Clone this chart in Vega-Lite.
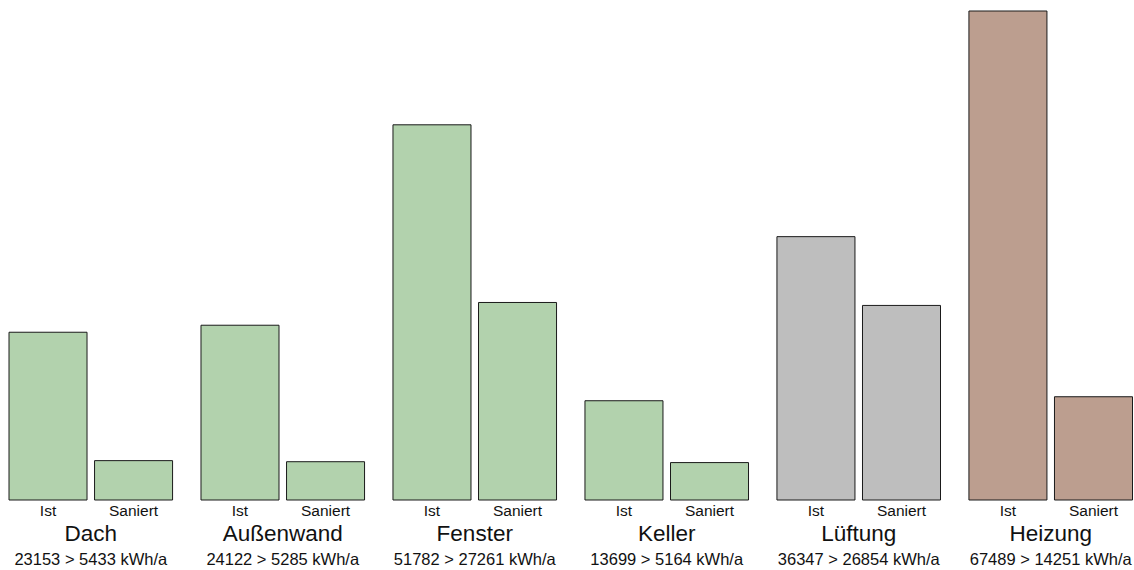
{
  "$schema": "https://vega.github.io/schema/vega-lite/v6.json",
  "width": 1123.5,
  "height": 489,
  "autosize": {"type": "none"},
  "padding": {"left": 9, "top": 11, "right": 1.5, "bottom": 70},
  "config": {"view": {"stroke": null}, "font": "Liberation Sans"},
  "datasets": {
    "balken": [
      {"Gruppe": "Dach", "Typ": "Ist", "Wert": 23153},
      {"Gruppe": "Dach", "Typ": "Saniert", "Wert": 5433},
      {"Gruppe": "Außenwand", "Typ": "Ist", "Wert": 24122},
      {"Gruppe": "Außenwand", "Typ": "Saniert", "Wert": 5285},
      {"Gruppe": "Fenster", "Typ": "Ist", "Wert": 51782},
      {"Gruppe": "Fenster", "Typ": "Saniert", "Wert": 27261},
      {"Gruppe": "Keller", "Typ": "Ist", "Wert": 13699},
      {"Gruppe": "Keller", "Typ": "Saniert", "Wert": 5164},
      {"Gruppe": "Lüftung", "Typ": "Ist", "Wert": 36347},
      {"Gruppe": "Lüftung", "Typ": "Saniert", "Wert": 26854},
      {"Gruppe": "Heizung", "Typ": "Ist", "Wert": 67489},
      {"Gruppe": "Heizung", "Typ": "Saniert", "Wert": 14251}
    ],
    "gruppen": [
      {"Gruppe": "Dach", "Text": "23153 > 5433 kWh/a"},
      {"Gruppe": "Außenwand", "Text": "24122 > 5285 kWh/a"},
      {"Gruppe": "Fenster", "Text": "51782 > 27261 kWh/a"},
      {"Gruppe": "Keller", "Text": "13699 > 5164 kWh/a"},
      {"Gruppe": "Lüftung", "Text": "36347 > 26854 kWh/a"},
      {"Gruppe": "Heizung", "Text": "67489 > 14251 kWh/a"}
    ]
  },
  "layer": [
    {
      "data": {"name": "balken"},
      "mark": {"type": "bar", "stroke": "#1a1a1a", "strokeWidth": 1},
      "encoding": {
        "x": {"field": "Gruppe", "type": "nominal", "sort": ["Dach", "Außenwand", "Fenster", "Keller", "Lüftung", "Heizung"], "scale": {"paddingInner": 0.148, "paddingOuter": 0}, "axis": null},
        "xOffset": {"field": "Typ", "type": "nominal", "sort": ["Ist", "Saniert"], "scale": {"paddingInner": 0.088, "paddingOuter": 0}},
        "y": {"field": "Wert", "type": "quantitative", "scale": {"domain": [0, 67489], "nice": false, "zero": true}, "axis": null},
        "color": {"field": "Gruppe", "type": "nominal", "scale": {"domain": ["Dach", "Außenwand", "Fenster", "Keller", "Lüftung", "Heizung"], "range": ["#b2d2ad", "#b2d2ad", "#b2d2ad", "#b2d2ad", "#bebebe", "#bc9e8f"]}, "legend": null}
      }
    },
    {
      "data": {"name": "balken"},
      "mark": {"type": "text", "baseline": "alphabetic", "align": "center", "dy": 16, "fontSize": 15.5, "color": "#111"},
      "encoding": {
        "x": {"field": "Gruppe", "type": "nominal", "sort": ["Dach", "Außenwand", "Fenster", "Keller", "Lüftung", "Heizung"]},
        "xOffset": {"field": "Typ", "type": "nominal", "sort": ["Ist", "Saniert"]},
        "y": {"datum": 0, "type": "quantitative"},
        "text": {"field": "Typ"}
      }
    },
    {
      "data": {"name": "gruppen"},
      "mark": {"type": "text", "baseline": "alphabetic", "align": "center", "dy": 41, "fontSize": 22.5, "color": "#111"},
      "encoding": {
        "x": {"field": "Gruppe", "type": "nominal", "sort": ["Dach", "Außenwand", "Fenster", "Keller", "Lüftung", "Heizung"]},
        "y": {"datum": 0, "type": "quantitative"},
        "text": {"field": "Gruppe"}
      }
    },
    {
      "data": {"name": "gruppen"},
      "mark": {"type": "text", "baseline": "alphabetic", "align": "center", "dy": 65, "fontSize": 16.5, "color": "#111"},
      "encoding": {
        "x": {"field": "Gruppe", "type": "nominal", "sort": ["Dach", "Außenwand", "Fenster", "Keller", "Lüftung", "Heizung"]},
        "y": {"datum": 0, "type": "quantitative"},
        "text": {"field": "Text"}
      }
    }
  ]
}
